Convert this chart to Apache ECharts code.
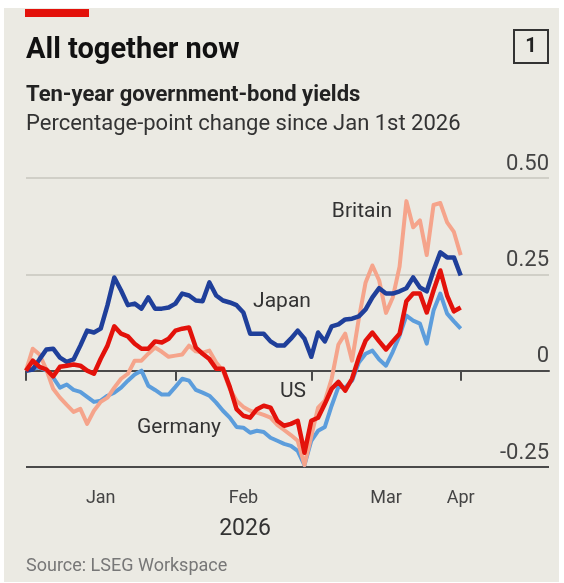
<!DOCTYPE html>
<html>
<head>
<meta charset="utf-8">
<title>All together now</title>
<script src="https://cdn.jsdelivr.net/npm/echarts@6.0.0/dist/echarts.min.js"></script>
<style>
  html, body { margin: 0; padding: 0; background: #ffffff; }
  #chart { width: 564px; height: 583px; }
</style>
</head>
<body>
<div id="chart"></div>
<script>
// trading days, Jan 1st is the base (0); axis runs on past the last value
const tradingDays = [
  '2026-01-01', '2026-01-02',
  '2026-01-05', '2026-01-06', '2026-01-07', '2026-01-08', '2026-01-09',
  '2026-01-12', '2026-01-13', '2026-01-14', '2026-01-15', '2026-01-16',
  '2026-01-19', '2026-01-20', '2026-01-21', '2026-01-22', '2026-01-23',
  '2026-01-26', '2026-01-27', '2026-01-28', '2026-01-29', '2026-01-30',
  '2026-02-02', '2026-02-03', '2026-02-04', '2026-02-05', '2026-02-06',
  '2026-02-09', '2026-02-10', '2026-02-11', '2026-02-12', '2026-02-13',
  '2026-02-16', '2026-02-17', '2026-02-18', '2026-02-19', '2026-02-20',
  '2026-02-23', '2026-02-24', '2026-02-25', '2026-02-26', '2026-02-27',
  '2026-03-02', '2026-03-03', '2026-03-04', '2026-03-05', '2026-03-06',
  '2026-03-09', '2026-03-10', '2026-03-11', '2026-03-12', '2026-03-13',
  '2026-03-16', '2026-03-17', '2026-03-18', '2026-03-19', '2026-03-20',
  '2026-03-23', '2026-03-24', '2026-03-25', '2026-03-26', '2026-03-27',
  '2026-03-30', '2026-03-31', '2026-04-01',
  '2026-04-02', '2026-04-03',
  '2026-04-06', '2026-04-07', '2026-04-08', '2026-04-09', '2026-04-10',
  '2026-04-13', '2026-04-14', '2026-04-15', '2026-04-16', '2026-04-17',
  '2026-04-20'
];

// month boundaries get a tick, month names sit mid-month (Apr at its start)
const monthTicks = ['2026-01-01', '2026-02-02', '2026-03-02', '2026-04-01'];
const monthLabels = {
  '2026-01-16': 'Jan',
  '2026-02-16': 'Feb',
  '2026-03-17': 'Mar',
  '2026-04-01': 'Apr'
};

const yTicks = [-0.25, 0, 0.25, 0.5];

// percentage-point change since Jan 1st
const japan = [
  0, 0.003, 0.03, 0.055, 0.057, 0.034, 0.023, 0.029, 0.065, 0.104,
  0.099, 0.109, 0.17, 0.242, 0.208, 0.17, 0.174, 0.161, 0.19, 0.161,
  0.161, 0.164, 0.174, 0.2, 0.195, 0.182, 0.18, 0.229, 0.195, 0.182,
  0.177, 0.17, 0.151, 0.096, 0.096, 0.096, 0.076, 0.065, 0.065, 0.083,
  0.104, 0.083, 0.036, 0.099, 0.076, 0.115, 0.12, 0.133, 0.135, 0.141,
  0.159, 0.19, 0.214, 0.2, 0.2, 0.206, 0.214, 0.242, 0.216, 0.206,
  0.26, 0.307, 0.294, 0.294, 0.247
];
const us = [
  0, 0.026, 0.01, 0.003, -0.015, 0.01, 0.013, 0.016, 0.013, 0,
  -0.008, 0.031, 0.065, 0.115, 0.096, 0.089, 0.07, 0.057, 0.057, 0.076,
  0.073, 0.083, 0.104, 0.109, 0.112, 0.06, 0.044, 0.03, 0.005, 0.005,
  -0.042, -0.1, -0.117, -0.122, -0.1, -0.091, -0.096, -0.13, -0.143, -0.138,
  -0.13, -0.213, -0.13, -0.122, -0.086, -0.047, -0.029, -0.052, -0.021, 0.034,
  0.078, 0.099, 0.076, 0.055, 0.076, 0.096, 0.18, 0.2, 0.2, 0.151,
  0.208, 0.26, 0.195, 0.154, 0.164
];
const britain = [
  0, 0.057, 0.042, 0.003, -0.047, -0.07, -0.089, -0.107, -0.099, -0.138,
  -0.104, -0.081, -0.07, -0.044, -0.021, -0.008, 0.026, 0.026, 0.044, 0.06,
  0.049, 0.036, 0.039, 0.042, 0.065, 0.05, 0.047, 0.052, 0.021, 0,
  -0.047, -0.078, -0.094, -0.104, -0.109, -0.115, -0.122, -0.141, -0.154, -0.167,
  -0.182, -0.245, -0.17, -0.096, -0.078, -0.021, 0.068, 0.096, 0.026, 0.135,
  0.229, 0.273, 0.234, 0.15, 0.19, 0.27, 0.44, 0.372, 0.39, 0.3,
  0.43, 0.435, 0.385, 0.36, 0.3
];
const germany = [
  0, 0.005, 0.008, 0, -0.018, -0.044, -0.036, -0.05, -0.055, -0.068,
  -0.081, -0.078, -0.065, -0.057, -0.044, -0.026, -0.01, 0, -0.039, -0.05,
  -0.062, -0.062, -0.042, -0.021, -0.026, -0.05, -0.057, -0.065, -0.083, -0.104,
  -0.122, -0.146, -0.148, -0.161, -0.156, -0.159, -0.174, -0.182, -0.19, -0.195,
  -0.208, -0.245, -0.182, -0.156, -0.146, -0.091, -0.042, -0.044, -0.026, 0.021,
  0.044, 0.052, 0.029, 0.013, 0.049, 0.091, 0.143, 0.13, 0.122, 0.07,
  0.156, 0.2, 0.148, 0.128, 0.109
];

const FONT = 'Roboto, "Liberation Sans", sans-serif';
const BG = '#ebeae3';

const chart = echarts.init(document.getElementById('chart'), null, { renderer: 'canvas' });

function txt(x, y, text, font, fill, align) {
  return {
    type: 'text',
    x: x,
    y: y,
    z: 50,
    style: {
      text: text,
      font: font,
      fill: fill,
      align: align || 'left',
      textAlign: align || 'left',
      verticalAlign: 'middle',
      textVerticalAlign: 'middle'
    }
  };
}

const option = {
  backgroundColor: BG,
  animation: false,
  grid: { left: 26, right: 15, top: 178, bottom: 116, containLabel: false },
  xAxis: {
    type: 'category',
    data: tradingDays,
    boundaryGap: false,
    axisLine: { show: true, lineStyle: { color: '#4a4a4a', width: 2 } },
    axisTick: {
      show: true,
      length: 10,
      interval: (i, v) => monthTicks.indexOf(v) >= 0,
      lineStyle: { color: '#4a4a4a', width: 2 }
    },
    axisLabel: {
      interval: (i, v) => monthLabels[v] !== undefined,
      formatter: v => monthLabels[v] || '',
      margin: 22,
      color: '#444',
      fontFamily: FONT,
      fontSize: 18
    },
    splitLine: { show: false }
  },
  yAxis: {
    type: 'value',
    position: 'right',
    min: yTicks[0],
    max: yTicks[yTicks.length - 1],
    interval: 0.25,
    axisLine: { show: false },
    axisTick: { show: false },
    axisLabel: {
      inside: true,
      margin: 0,
      verticalAlign: 'bottom',
      padding: [0, 0, 3, 0],
      color: '#444',
      fontFamily: FONT,
      fontSize: 22,
      formatter: v => (v === 0 ? '0' : v.toFixed(2))
    },
    splitLine: {
      show: true,
      lineStyle: { color: ['#4a4a4a', '#4a4a4a', '#d0cfc7', '#d0cfc7'], width: 2 }
    }
  },
  series: [
    { name: 'Germany', type: 'line', data: germany, showSymbol: false, symbol: 'none',
      lineStyle: { color: '#5c9ddc', width: 4, join: 'round' }, z: 3 },
    { name: 'Britain', type: 'line', data: britain, showSymbol: false, symbol: 'none',
      lineStyle: { color: '#f5a48b', width: 4, join: 'round' }, z: 4 },
    { name: 'Japan', type: 'line', data: japan, showSymbol: false, symbol: 'none',
      lineStyle: { color: '#1f3f9a', width: 4.5, join: 'round' }, z: 5 },
    { name: 'US', type: 'line', data: us, showSymbol: false, symbol: 'none',
      lineStyle: { color: '#e3120b', width: 4.5, join: 'round' }, z: 6 }
  ],
  graphic: [
    // white margin round the panel
    { type: 'rect', shape: { x: 0, y: 0, width: 564, height: 8 }, style: { fill: '#fff' }, z: 40 },
    { type: 'rect', shape: { x: 0, y: 0, width: 4, height: 583 }, style: { fill: '#fff' }, z: 40 },
    { type: 'rect', shape: { x: 559, y: 0, width: 5, height: 583 }, style: { fill: '#fff' }, z: 40 },
    { type: 'rect', shape: { x: 0, y: 582, width: 564, height: 1 }, style: { fill: '#fff' }, z: 40 },
    // red tag
    { type: 'rect', shape: { x: 25, y: 9, width: 64, height: 8 }, style: { fill: '#e3120b' }, z: 45 },
    // chart number box
    { type: 'rect', shape: { x: 514, y: 30, width: 34, height: 33 },
      style: { fill: 'none', stroke: '#333', lineWidth: 2 }, z: 45 },
    txt(531, 47, '1', 'bold 20px ' + FONT, '#222', 'center'),
    txt(26, 51, 'All together now', 'bold 29px ' + FONT, '#111'),
    txt(26, 95, 'Ten-year government-bond yields', 'bold 22px ' + FONT, '#222'),
    txt(26, 124, 'Percentage-point change since Jan 1st 2026', '22px ' + FONT, '#333'),
    txt(362, 212, 'Britain', '21px ' + FONT, '#333', 'center'),
    txt(282, 302, 'Japan', '21px ' + FONT, '#333', 'center'),
    txt(293, 392, 'US', '21px ' + FONT, '#333', 'center'),
    txt(179, 428, 'Germany', '21px ' + FONT, '#333', 'center'),
    txt(245, 529, '2026', '23px ' + FONT, '#333', 'center'),
    txt(26, 566, 'Source: LSEG Workspace', '18px ' + FONT, '#777')
  ]
};

chart.setOption(option);
</script>
</body>
</html>
